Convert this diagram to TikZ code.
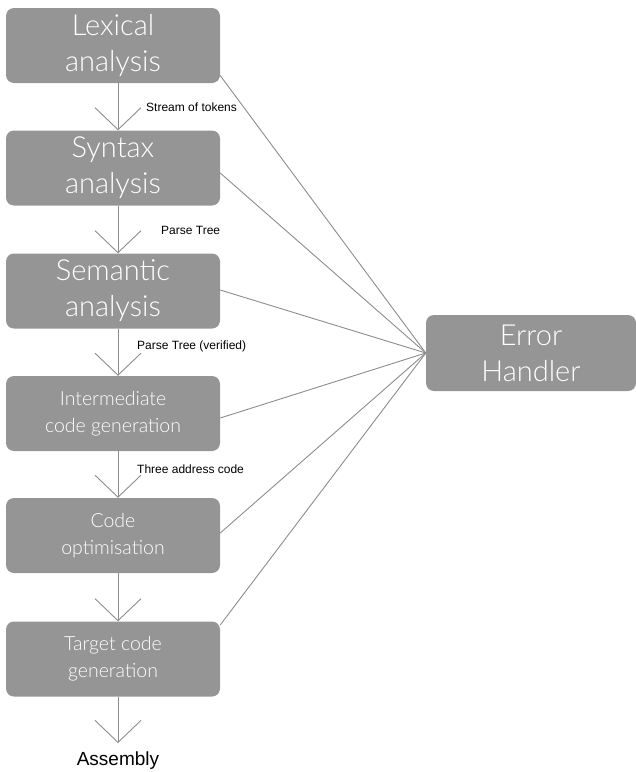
\documentclass[tikz,border=0pt]{standalone}
\usepackage{fontspec}
\setmainfont{Liberation Sans}
\newfontfamily\thinfont{Lato Light}
\usetikzlibrary{arrows.meta}
\definecolor{boxgray}{HTML}{959595}
\definecolor{linegray}{HTML}{8C8C8C}
\begin{document}
\begin{tikzpicture}[x=1pt,y=-1pt,
  stage/.style={draw=none, fill=boxgray, rounded corners=8pt, minimum width=214pt,
    minimum height=75pt, text=white, align=center, inner sep=0pt},
  big/.style={font=\thinfont\fontsize{29}{36}\selectfont},
  small/.style={font=\thinfont\fontsize{19.5}{27}\selectfont},
  flow/.style={draw=linegray, line width=0.9pt, -{Straight Barb[length=22pt,width=46pt]}},
  report/.style={draw=linegray, line width=0.9pt},
  note/.style={font=\fontsize{12}{14}\selectfont, anchor=west, inner sep=0pt}]
\useasboundingbox (0,0) rectangle (636,772);

% compiler phases
\node[stage,big]   (lex) at (113,45.5)  {Lexical\\analysis};
\node[stage,big]   (syn) at (113,168)   {Syntax\\analysis};
\node[stage,big]   (sem) at (113,291)   {Semantic\\analysis};
\node[stage,small] (int) at (113,413.5) {Intermediate\\code generation};
\node[stage,small] (opt) at (113,535.5) {Code\\optimisation};
\node[stage,small] (tgt) at (113,659)   {Target code\\generation};
\node[stage,big, minimum width=210pt, minimum height=76pt] (err) at (531,353) {Error\\Handler};
\node[font=\fontsize{19}{23}\selectfont, anchor=north, inner sep=0pt, inner ysep=9pt] (asm) at (118,743) {Assembly};

% data passed between phases
\draw[flow] ([xshift=5pt]lex.south) -- ([xshift=5pt]syn.north);
\draw[flow] ([xshift=5pt]syn.south) -- ([xshift=5pt]sem.north);
\draw[flow] ([xshift=5pt]sem.south) -- ([xshift=5pt]int.north);
\draw[flow] ([xshift=5pt]int.south) -- ([xshift=5pt]opt.north);
\draw[flow] ([xshift=5pt]opt.south) -- ([xshift=5pt]tgt.north);
\draw[flow] ([xshift=5pt]tgt.south) -- (asm.north);

\node[note] (l1) at (146,107) {Stream of tokens};
\node[note] (l2) at (161,230) {Parse Tree};
\node[note] (l3) at (137,346) {Parse Tree (verified)};
\node[note] (l4) at (137,469) {Three address code};

% every phase reports to the error handler
\draw[report] ([yshift=-30pt]lex.east) -- (err.west);
\draw[report] ([yshift=-5pt]syn.east) -- (err.west);
\draw[report] ([yshift=1pt]sem.east) -- (err.west);
\draw[report] ([yshift=-4.5pt]int.east) -- (err.west);
\draw[report] ([yshift=2.5pt]opt.east) -- (err.west);
\draw[report] ([yshift=34pt]tgt.east) -- (err.west);
\end{tikzpicture}
\end{document}
